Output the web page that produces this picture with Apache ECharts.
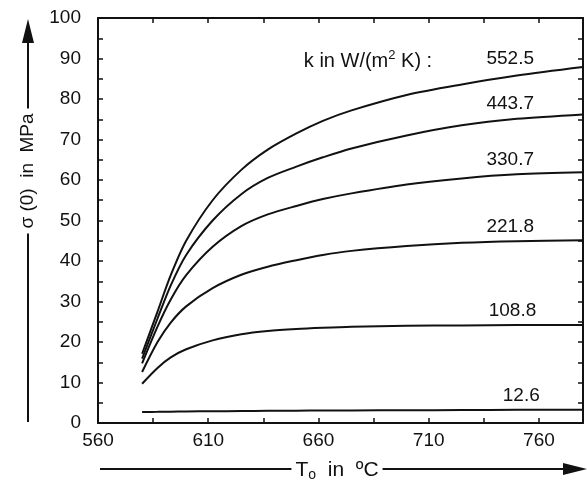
<!DOCTYPE html>
<html>
<head>
<meta charset="utf-8">
<script src="https://cdn.jsdelivr.net/npm/echarts@6/dist/echarts.min.js"></script>
<style>
  html, body { margin: 0; padding: 0; background: #ffffff; }
  #chart { width: 587px; height: 481px; }
</style>
</head>
<body>
<div id="chart"></div>
<script>
// Surface stress sigma(0) versus quench start temperature T0,
// one curve per heat transfer coefficient k.
const temps = [580, 587, 593, 600, 612, 625, 637, 650, 662, 675, 700, 725, 750, 780];
const kLabels = ['552.5', '443.7', '330.7', '221.8', '108.8', '12.6'];
const sigmaK552 = [17.1, 27.5, 36.5, 45.0, 55.0, 62.5, 67.5, 71.5, 74.6, 77.2, 81.0, 83.6, 85.8, 87.9];
const sigmaK443 = [15.9, 25.8, 34.0, 41.5, 50.0, 56.5, 60.5, 63.3, 65.6, 67.8, 71.0, 73.5, 75.1, 76.2];
const sigmaK330 = [14.7, 23.8, 30.5, 36.5, 43.5, 48.6, 51.5, 53.6, 55.3, 56.7, 58.9, 60.4, 61.4, 61.9];
const sigmaK221 = [12.6, 20.0, 24.8, 28.8, 33.3, 36.6, 38.6, 40.2, 41.5, 42.5, 43.7, 44.5, 44.9, 45.1];
const sigmaK108 = [9.7, 13.6, 16.2, 18.2, 20.4, 21.9, 22.7, 23.2, 23.5, 23.75, 24.0, 24.1, 24.2, 24.2];
const sigmaK12 = [2.7, 2.75, 2.8, 2.85, 2.9, 2.95, 3.0, 3.05, 3.08, 3.1, 3.15, 3.2, 3.25, 3.3];
const xTickLabels = [560, 610, 660, 710, 760];
const xTicks = [560, 585, 610, 635, 660, 685, 710, 735, 760];

const seriesValues = [sigmaK552, sigmaK443, sigmaK330, sigmaK221, sigmaK108, sigmaK12];

const FONT = '"Liberation Sans", Arial, Helvetica, sans-serif';
const INK = '#111111';

const chart = echarts.init(document.getElementById('chart'), null, { renderer: 'canvas' });

const axisLine = { show: true, onZero: false, lineStyle: { color: INK, width: 2 } };
const tickStyle = { color: INK, width: 1.5 };

// label anchors in data space, just above each curve near the right edge
const labelAnchors = [
  [747, 90.0], [747, 78.7], [747, 65.1], [747, 48.4], [748, 27.6], [752, 6.8]
];

const series = seriesValues.map((vals, i) => ({
  type: 'line',
  xAxisIndex: 0,
  yAxisIndex: 0,
  data: temps.map((t, j) => [t, vals[j]]),
  smooth: 0.3,
  symbol: 'none',
  lineStyle: { color: INK, width: 2 },
  silent: true,
  markPoint: {
    symbol: 'circle',
    symbolSize: 1,
    silent: true,
    itemStyle: { color: 'rgba(0,0,0,0)' },
    label: {
      show: true,
      formatter: kLabels[i],
      color: INK,
      fontFamily: FONT,
      fontSize: 19,
      position: 'inside'
    },
    data: [{ coord: labelAnchors[i] }]
  }
}));

const option = {
  animation: false,
  backgroundColor: '#ffffff',
  grid: { left: 98, right: 4, top: 18, bottom: 58, containLabel: false },
  xAxis: [
    {
      type: 'value', min: 560, max: 780, position: 'bottom',
      axisLine: axisLine,
      axisTick: { show: true, inside: true, length: 5, lineStyle: tickStyle, customValues: xTicks },
      axisLabel: { show: true, customValues: xTickLabels, color: INK, fontFamily: FONT, fontSize: 19, margin: 8 },
      splitLine: { show: false }
    },
    {
      type: 'value', min: 560, max: 780, position: 'top',
      axisLine: axisLine,
      axisTick: { show: true, inside: true, length: 5, lineStyle: tickStyle, customValues: xTicks },
      axisLabel: { show: false },
      splitLine: { show: false }
    }
  ],
  yAxis: [
    {
      type: 'value', min: 0, max: 100, interval: 10, position: 'left',
      axisLine: axisLine,
      axisTick: { show: true, inside: true, length: 5, lineStyle: tickStyle },
      minorTick: { show: true, splitNumber: 2, length: 5, lineStyle: tickStyle },
      axisLabel: { color: INK, fontFamily: FONT, fontSize: 19, margin: 17 },
      splitLine: { show: false }
    },
    {
      type: 'value', min: 0, max: 100, interval: 10, position: 'right',
      axisLine: axisLine,
      axisTick: { show: true, inside: true, length: 5, lineStyle: tickStyle },
      minorTick: { show: true, splitNumber: 2, length: 5, lineStyle: tickStyle },
      axisLabel: { show: false },
      splitLine: { show: false }
    }
  ],
  series: series,
  graphic: [
    // vertical axis title with arrow
    { type: 'line', z: 10, shape: { x1: 28, y1: 422, x2: 28, y2: 40 }, style: { stroke: INK, lineWidth: 2 } },
    { type: 'polygon', z: 10, shape: { points: [[28, 19], [22, 43], [34, 43]] }, style: { fill: INK } },
    {
      type: 'text', z: 20, x: 28, y: 171, rotation: Math.PI / 2,
      style: {
        text: 'σ (0)  in  MPa', font: '19px ' + FONT, fill: INK,
        align: 'center', verticalAlign: 'middle',
        backgroundColor: '#ffffff', padding: [2, 5, 2, 5]
      }
    },
    // horizontal axis title with arrow
    { type: 'line', z: 10, shape: { x1: 100, y1: 469, x2: 566, y2: 469 }, style: { stroke: INK, lineWidth: 2 } },
    { type: 'polygon', z: 10, shape: { points: [[587, 469], [563, 463], [563, 475]] }, style: { fill: INK } },
    {
      type: 'text', z: 20, x: 337, y: 470,
      style: {
        text: '{n|T}{s|o}{n|  in  ºC}',
        align: 'center', verticalAlign: 'middle',
        backgroundColor: '#ffffff', padding: [0, 4, 0, 4],
        rich: {
          n: { fontFamily: FONT, fontSize: 21, fill: INK, color: INK, lineHeight: 24 },
          s: { fontFamily: FONT, fontSize: 14, fill: INK, color: INK, verticalAlign: 'bottom', padding: [10, 0, 0, 0] }
        }
      }
    },
    // heading for the curve labels
    {
      type: 'text', z: 20, x: 368, y: 61,
      style: {
        text: '{n|k in W/(m}{p|2}{n| K) :}',
        align: 'center', verticalAlign: 'middle',
        rich: {
          n: { fontFamily: FONT, fontSize: 20, fill: INK, color: INK, lineHeight: 24 },
          p: { fontFamily: FONT, fontSize: 13, fill: INK, color: INK, verticalAlign: 'top', padding: [0, 0, 8, 0] }
        }
      }
    }
  ]
};

chart.setOption(option);
</script>
</body>
</html>
